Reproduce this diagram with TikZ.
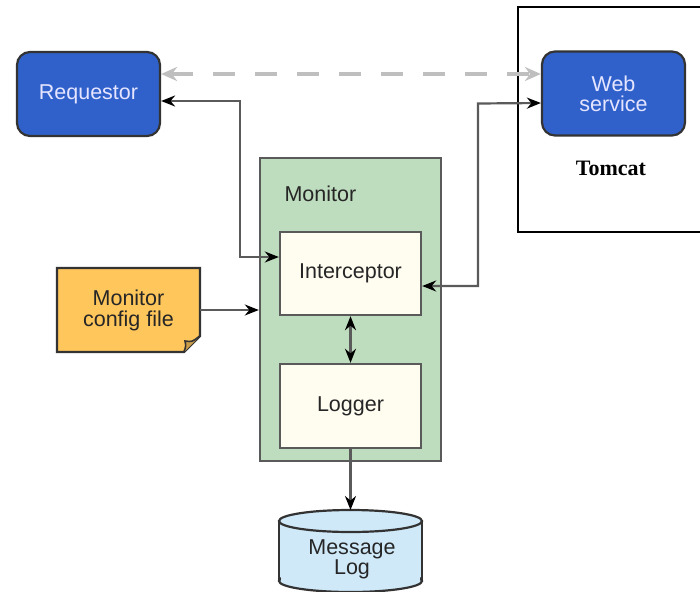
\documentclass[tikz,border=0pt]{standalone}
\usepackage{fontspec}
\setmainfont{Liberation Sans}
\newfontfamily\tomfont{Liberation Serif}
\usetikzlibrary{arrows.meta,calc}
\definecolor{bluebox}{HTML}{3061CB}
\definecolor{greenbox}{HTML}{BEDCBE}
\definecolor{creambox}{HTML}{FFFCF0}
\definecolor{orangebox}{HTML}{FFC65C}
\definecolor{cylbox}{HTML}{CFE9F9}
\definecolor{linegray}{HTML}{5A5A5A}
\begin{document}
\begin{tikzpicture}[x=1pt,y=-1pt,
  txt/.style={font=\fontsize{21.5}{23}\selectfont, align=center, text=black!85},
  bluenode/.style={txt, draw=black!80, line width=2.2pt, fill=bluebox, rounded corners=13pt, text=white!90!blue, minimum width=143pt, minimum height=84pt},
  innernode/.style={txt, draw=linegray, line width=2.4pt, fill=creambox, minimum width=141pt, minimum height=83pt},
  conn/.style={draw=linegray, line width=2.2pt, {Stealth[length=14pt,width=11pt,black]}-{Stealth[length=14pt,width=11pt,black]}},
  fwd/.style={draw=linegray, line width=2.2pt, -{Stealth[length=14pt,width=11pt,black]}},
  dashconn/.style={draw=black!25, line width=3.6pt, dash pattern=on 22pt off 20pt, {Stealth[length=16pt,width=14pt,black!25]}-{Stealth[length=16pt,width=14pt,black!25]}}
]
\useasboundingbox (0,0) rectangle (700,591);
\clip (0,0) rectangle (700,591);
\fill[white] (0,0) rectangle (700,591);

% Tomcat container
\draw[black, line width=1.8pt] (518,7) rectangle (712,232);
\node[font=\tomfont\bfseries\fontsize{22}{24}\selectfont] (tomcat) at (611,168) {Tomcat};

% Requestor and Web service
\node[bluenode] (req) at (88.5,94) {Requestor};
\node[bluenode] (web) at (613.5,93.5) {Web\\[-3pt]service};

% Monitor
\node[draw=linegray, line width=2.4pt, fill=greenbox, minimum width=181pt, minimum height=303pt] (mon) at (350.5,309.5) {};
\node[txt, anchor=west] (montitle) at (281,194) {Monitor};
\node[innernode] (int) at (350.5,273.5) {Interceptor};
\node[innernode, minimum height=84pt] (logg) at (350.5,406) {Logger};

% Config file
\filldraw[draw=black!80, line width=2.2pt, fill=orangebox] (57,268) -- (200,268) -- (200,336) -- (184,352) -- (57,352) -- cycle;
\draw[black!80, line width=1.6pt, fill=orangebox!80!black] (184,352) .. controls (186,346) .. (185,341) .. controls (192,342) .. (200,336);
\node[txt, minimum width=143pt, minimum height=84pt] (cfg) at (128.5,310) {Monitor\\[-2pt]config file};

% Message Log cylinder
\fill[cylbox] (279,521) rectangle (422,581);
\filldraw[draw=black!80, line width=2.2pt, fill=cylbox] (350.5,581) ellipse[x radius=71.5, y radius=11];
\fill[cylbox] (281,521) rectangle (420,581);
\draw[black!80, line width=2.2pt] (279,521) -- (279,581) (422,521) -- (422,581);
\filldraw[draw=black!80, line width=2.2pt, fill=cylbox] (350.5,521) ellipse[x radius=71.5, y radius=11];
\coordinate (logtop) at (350.5,510);
\node[txt] (mlog) at (352,559) {Message\\[-3pt]Log};

% Connectors
\draw[dashconn] ([yshift=20pt]req.east) -- ([yshift=19.5pt]web.west);
\draw[conn] ([yshift=-7pt]req.east) -- (240,101) -- (240,257) -- ([yshift=16.5pt]int.west);
\draw[conn] ([yshift=-9.5pt]web.west) -- (478,103.5) -- (478,286) -- ([yshift=-12.5pt]int.east);
\draw[fwd] (cfg.east) -- (cfg.east -| mon.west);
\draw[conn] (int.south) -- (logg.north);
\draw[fwd] (logg.south) -- (logtop);
\end{tikzpicture}
\end{document}
